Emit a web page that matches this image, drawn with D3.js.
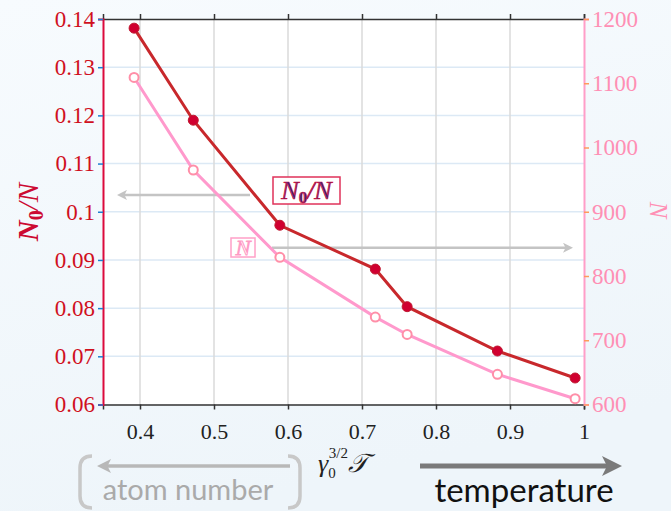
<!DOCTYPE html>
<html>
<head>
<meta charset="utf-8">
<script src="https://cdn.jsdelivr.net/npm/d3@7"></script>
<style>
html,body{margin:0;padding:0;}
body{width:671px;height:511px;overflow:hidden;}
</style>
</head>
<body>
<svg id="chart" width="671" height="511"></svg>
<script>
// ---- data ----
const xValues = [0.392, 0.472, 0.589, 0.718, 0.761, 0.883, 0.988];
const ratioValues = [0.1381, 0.1190, 0.0972, 0.0881, 0.0803, 0.0711, 0.0655]; // N0/N
const atomValues = [1109, 965, 829, 736, 709, 647, 609]; // N
const xTicks = [0.4, 0.5, 0.6, 0.7, 0.8, 0.9, 1];
const xTickLabels = ["0.4", "0.5", "0.6", "0.7", "0.8", "0.9", "1"];
const leftTicks = [0.06, 0.07, 0.08, 0.09, 0.1, 0.11, 0.12, 0.13, 0.14];
const leftTickLabels = ["0.06", "0.07", "0.08", "0.09", "0.1", "0.11", "0.12", "0.13", "0.14"];
const rightTicks = [600, 700, 800, 900, 1000, 1100, 1200];
const rightTickLabels = ["600", "700", "800", "900", "1000", "1100", "1200"];

const svg = d3.select("#chart");
const W = 671, H = 511;
const m = {left: 103, right: 584, top: 19, bottom: 404.5};

// background gradient
const defs = svg.append("defs");
const bg = defs.append("linearGradient").attr("id", "bg").attr("x1", 0).attr("y1", 0).attr("x2", 0.3).attr("y2", 1);
bg.append("stop").attr("offset", "0%").attr("stop-color", "#f7fbfe");
bg.append("stop").attr("offset", "100%").attr("stop-color", "#eef5fa");
const mk = (id, color) => defs.append("marker").attr("id", id).attr("viewBox", "0 0 10 10")
  .attr("refX", 5).attr("refY", 5).attr("markerWidth", 4).attr("markerHeight", 4)
  .attr("markerUnits", "strokeWidth").attr("orient", "auto-start-reverse")
  .append("path").attr("d", "M0,0 L10,5 L0,10 L2.5,5 Z").attr("fill", color);
mk("arrGray", "#c4c4c4");
mk("arrDark", "#7a7a7a");
mk("arrLight", "#b8b8b8");

svg.append("rect").attr("width", W).attr("height", H).attr("fill", "url(#bg)");

const x = d3.scaleLinear().domain([0.35, 1]).range([m.left, m.right]);
const yL = d3.scaleLinear().domain([0.06, 0.14]).range([m.bottom, m.top]);
const yR = d3.scaleLinear().domain([600, 1200]).range([m.bottom, m.top]);

// plot background
svg.append("rect").attr("x", m.left).attr("y", m.top)
  .attr("width", m.right - m.left).attr("height", m.bottom - m.top).attr("fill", "#ffffff");

// grid
svg.append("g").selectAll("line").data(leftTicks.slice(1, -1)).join("line")
  .attr("x1", m.left).attr("x2", m.right)
  .attr("y1", d => yL(d)).attr("y2", d => yL(d))
  .attr("stroke", "#dce9f5").attr("stroke-width", 1.5);
svg.append("g").selectAll("line").data(xTicks.slice(0, -1)).join("line")
  .attr("x1", d => x(d)).attr("x2", d => x(d))
  .attr("y1", m.top).attr("y2", m.bottom)
  .attr("stroke", "#dadada").attr("stroke-width", 1.5);

const serif = "'Liberation Serif','DejaVu Serif',serif";

// bottom axis
const bottomAxis = svg.append("g").attr("transform", `translate(0,${m.bottom})`)
  .call(d3.axisBottom(x).tickValues(xTicks).tickFormat((d, i) => xTickLabels[i]).tickSize(5).tickPadding(14));
bottomAxis.select(".domain").attr("stroke", "#333").attr("stroke-width", 1.5);
bottomAxis.selectAll(".tick line").attr("stroke", "#333").attr("stroke-width", 1.5);
bottomAxis.selectAll("text").attr("font-family", serif).attr("font-size", 22).attr("fill", "#222");

// top axis
const topAxis = svg.append("g").attr("transform", `translate(0,${m.top})`)
  .call(d3.axisTop(x).tickValues(xTicks).tickFormat("").tickSize(5));
topAxis.select(".domain").attr("stroke", "#333").attr("stroke-width", 1.5);
topAxis.selectAll(".tick line").attr("stroke", "#333").attr("stroke-width", 1.5);

// left axis
const leftAxis = svg.append("g").attr("transform", `translate(${m.left},0)`)
  .call(d3.axisLeft(yL).tickValues(leftTicks).tickFormat((d, i) => leftTickLabels[i]).tickSize(5).tickPadding(3));
leftAxis.select(".domain").attr("stroke", "#dc0a3c").attr("stroke-width", 2);
leftAxis.selectAll(".tick line").attr("stroke", "#1f7fd0").attr("stroke-width", 1.5);
leftAxis.selectAll("text").attr("font-family", serif).attr("font-size", 23).attr("fill", "#d0101e");

// right axis
const rightAxis = svg.append("g").attr("transform", `translate(${m.right},0)`)
  .call(d3.axisRight(yR).tickValues(rightTicks).tickFormat((d, i) => rightTickLabels[i]).tickSize(5).tickPadding(3));
rightAxis.select(".domain").attr("stroke", "#ff9ec8").attr("stroke-width", 2);
rightAxis.selectAll(".tick line").attr("stroke", "#ff9a5c").attr("stroke-width", 1.5);
rightAxis.selectAll("text").attr("font-family", serif).attr("font-size", 23).attr("fill", "#ff8fb4");

// annotation arrows
svg.append("line").attr("x1", 250).attr("y1", yL(0.1035)).attr("x2", 122).attr("y2", yL(0.1035))
  .attr("stroke", "#c4c4c4").attr("stroke-width", 2.5).attr("marker-end", "url(#arrGray)");
svg.append("line").attr("x1", 272).attr("y1", yR(844)).attr("x2", 568).attr("y2", yR(844))
  .attr("stroke", "#c4c4c4").attr("stroke-width", 2.5).attr("marker-end", "url(#arrGray)");

// N series (pink)
const pts = xValues.map((v, i) => ({x: v, r: ratioValues[i], n: atomValues[i]}));
svg.append("path").datum(pts)
  .attr("d", d3.line().x(d => x(d.x)).y(d => yR(d.n)))
  .attr("fill", "none").attr("stroke", "#ff99cc").attr("stroke-width", 3);
svg.append("g").selectAll("circle").data(pts).join("circle")
  .attr("cx", d => x(d.x)).attr("cy", d => yR(d.n)).attr("r", 4.5)
  .attr("fill", "#ffffff").attr("stroke", "#ff8fa8").attr("stroke-width", 2);

// N0/N series (red)
svg.append("path").datum(pts)
  .attr("d", d3.line().x(d => x(d.x)).y(d => yL(d.r)))
  .attr("fill", "none").attr("stroke", "#c8282c").attr("stroke-width", 3);
svg.append("g").selectAll("circle").data(pts).join("circle")
  .attr("cx", d => x(d.x)).attr("cy", d => yL(d.r)).attr("r", 5)
  .attr("fill", "#d00030").attr("stroke", "#c01830").attr("stroke-width", 1);

// boxed labels
svg.append("rect").attr("x", 273).attr("y", 177).attr("width", 67).attr("height", 27)
  .attr("fill", "#ffffff").attr("stroke", "#e0325a").attr("stroke-width", 1.5);
const lab1 = svg.append("text").attr("x", 306.5).attr("y", 199).attr("text-anchor", "middle")
  .attr("font-family", serif).attr("font-size", 26).attr("font-style", "italic")
  .attr("fill", "#3a2a80").attr("stroke", "#d0103a").attr("stroke-width", 0.7);
lab1.append("tspan").text("N");
lab1.append("tspan").attr("font-size", 17).attr("dy", 4).attr("font-style", "normal").attr("font-weight", "bold").text("0");
lab1.append("tspan").attr("dy", -4).text("/N");

svg.append("rect").attr("x", 231).attr("y", 238).attr("width", 24).attr("height", 19)
  .attr("fill", "#ffffff").attr("stroke", "#ffa0c8").attr("stroke-width", 1.5);
svg.append("text").attr("x", 243).attr("y", 255).attr("text-anchor", "middle")
  .attr("font-family", serif).attr("font-size", 22).attr("font-style", "italic")
  .attr("fill", "#ffffff").attr("stroke", "#ff99c4").attr("stroke-width", 1).text("N");

// axis titles
const lt = svg.append("text").attr("transform", "translate(38,212) rotate(-90)")
  .attr("text-anchor", "middle").attr("font-family", serif).attr("font-size", 29)
  .attr("fill", "#cc0a32");
lt.append("tspan").attr("font-weight", "bold").attr("font-style", "italic").text("N");
lt.append("tspan").attr("font-weight", "bold").attr("font-size", 20).attr("dy", 5).text("0");
lt.append("tspan").attr("dy", -5).attr("font-style", "italic").text("/N");

svg.append("text").attr("transform", "translate(650,210) rotate(90)")
  .attr("text-anchor", "middle").attr("font-family", serif).attr("font-size", 25)
  .attr("font-style", "italic").attr("fill", "#ff8fb4").text("N");

// x axis title
const xt = svg.append("text").attr("x", 318).attr("y", 472)
  .attr("font-family", serif).attr("font-size", 26).attr("fill", "#222");
xt.append("tspan").attr("font-style", "italic").text("γ");
xt.append("tspan").attr("font-size", 15).attr("dy", 6).text("0");
xt.append("tspan").attr("font-size", 15).attr("dx", -7).attr("dy", -20).text("3/2");
xt.append("tspan").attr("dy", 14).attr("font-style", "italic").text("𝒯");

// bottom annotations
svg.append("path").attr("d", "M92,456 Q80,456 80,468 L80,496 Q80,508 92,508")
  .attr("fill", "none").attr("stroke", "#c8c8c8").attr("stroke-width", 3.5);
svg.append("path").attr("d", "M288,456 Q300,456 300,468 L300,496 Q300,508 288,508")
  .attr("fill", "none").attr("stroke", "#c8c8c8").attr("stroke-width", 3.5);
svg.append("line").attr("x1", 290).attr("y1", 466).attr("x2", 104).attr("y2", 466)
  .attr("stroke", "#b8b8b8").attr("stroke-width", 3.5).attr("marker-end", "url(#arrLight)");
svg.append("text").attr("x", 188).attr("y", 500).attr("text-anchor", "middle")
  .attr("font-family", "Lato,'Open Sans',sans-serif").attr("font-size", 29)
  .attr("fill", "#aaaaaa").text("atom number");

svg.append("line").attr("x1", 420).attr("y1", 466).attr("x2", 612).attr("y2", 466)
  .attr("stroke", "#7a7a7a").attr("stroke-width", 5).attr("marker-end", "url(#arrDark)");
svg.append("text").attr("x", 524).attr("y", 502).attr("text-anchor", "middle")
  .attr("font-family", "Lato,'Open Sans',sans-serif").attr("font-size", 33)
  .attr("fill", "#111111").text("temperature");
</script>
</body>
</html>
